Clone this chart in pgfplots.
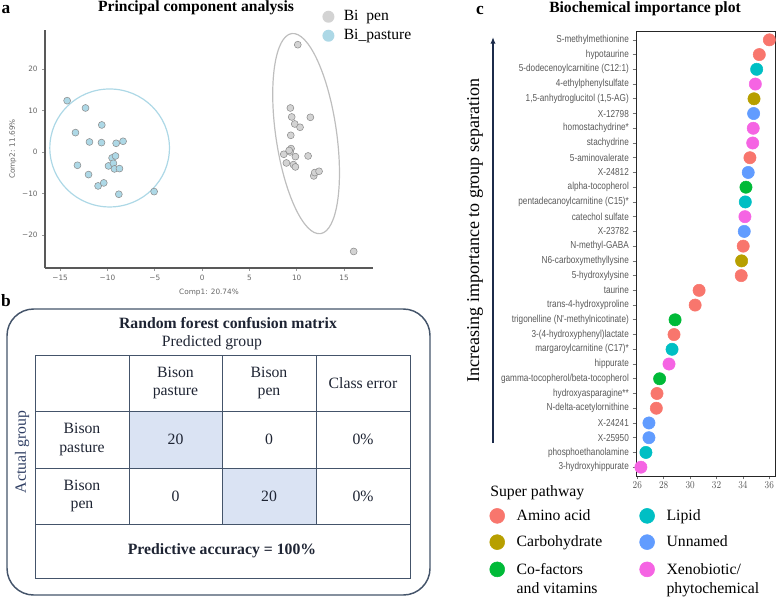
\documentclass[border=0pt]{standalone}
\usepackage{fontspec}
\setmainfont{Liberation Serif}
\newfontfamily\dejavu{DejaVu Sans}
\newfontfamily\libsans{Liberation Sans}
\usepackage{pgfplots}
\pgfplotsset{compat=1.18}
\usetikzlibrary{arrows.meta}
\definecolor{cAmino}{HTML}{F8766D}
\definecolor{cCarb}{HTML}{B79F00}
\definecolor{cCof}{HTML}{00BA38}
\definecolor{cLipid}{HTML}{00BFC4}
\definecolor{cUnn}{HTML}{619CFF}
\definecolor{cXeno}{HTML}{F564E3}
\definecolor{pasture}{HTML}{ADD8E6}
\definecolor{pen}{HTML}{D3D3D3}
\definecolor{navy}{HTML}{1C2B4A}
\definecolor{frame}{HTML}{44546A}
\definecolor{cellblue}{HTML}{DAE3F3}
\definecolor{tabtext}{HTML}{1E2433}
\definecolor{actual}{HTML}{2F3E63}
\renewcommand{\arraystretch}{1}
\begin{document}
\begin{tikzpicture}
\useasboundingbox (0,0) rectangle (582.75pt,-447.75pt);

% ---------------- Panel a: PCA ----------------
\begin{axis}[
  at={(33.75pt,-201pt)}, anchor=south west, scale only axis,
  width=246pt, height=178.5pt,
  xmin=-16.6, xmax=18.06, ymin=-28, ymax=29.5,
  axis lines*=left, axis line style={-, draw=black!65, line width=0.8pt},
  xtick={-15,-10,-5,0,5,10,15}, xticklabels={−15,−10,−5,0,5,10,15},
  ytick={-20,-10,0,10,20}, yticklabels={−20,−10,0,10,20},
  tick align=outside, major tick length=2pt, tick style={black!40, line width=0.5pt},
  ticklabel style={font=\dejavu\fontsize{5.5}{6}\selectfont, text=black!60},
  xlabel={Comp1: 20.74\%}, ylabel={Comp2: 11.69\%},
  label style={font=\dejavu\fontsize{5.5}{6}\selectfont, text=black!60},
  xlabel style={at={(axis description cs:0.5,-0.105)}, anchor=center},
  ylabel style={at={(axis description cs:-0.0976,0.5)}, anchor=center},
  legend style={at={(axis description cs:0.845,1.094)}, anchor=north west, draw=none, fill=none,
    font=\fontsize{11.7}{14}\selectfont, row sep=1pt, column sep=5pt, inner sep=0pt},
  legend cell align=left,
  legend image code/.code={\path[#1, draw=none] (4.5pt,0pt) circle (4.5pt);},
  clip=false,
]
\addplot[only marks, mark=*, mark size=2.6pt, mark options={fill=pasture, draw=black!45, line width=0.4pt}, forget plot] coordinates {
(-14.26,12.43) (-12.32,10.66) (-13.38,4.71) (-10.60,6.56) (-11.90,2.45)
(-10.63,2.29) (-9.08,2.13) (-8.35,2.62) (-9.51,-1.41) (-9.15,-0.93)
(-13.17,-3.18) (-9.89,-3.34) (-9.37,-2.70) (-9.26,-4.06) (-8.73,-3.98)
(-12.00,-5.43) (-10.99,-8.17) (-10.39,-7.44) (-8.80,-10.18) (-5.07,-9.54)
};
\addplot[only marks, mark=*, mark size=2.6pt, mark options={fill=pen, draw=black!45, line width=0.4pt}, forget plot] coordinates {
(10.11,25.95) (9.33,10.66) (9.47,8.49) (9.79,6.80) (10.35,6.00)
(11.44,8.41) (9.37,4.06) (9.40,0.85) (9.30,0.04) (8.63,-0.52)
(9.86,-1.09) (11.20,-0.93) (8.91,-2.62) (9.65,-3.02) (9.86,-3.58)
(11.80,-5.75) (11.90,-4.95) (12.36,-4.63) (9.20,0.40) (16.02,-24.00)
};
\draw[pasture, line width=0.9pt] (axis cs:-9.77,1.0) ellipse [x radius=6.32, y radius=14.25];
\draw[pen!90!black, line width=0.9pt, rotate around={8.2:(axis cs:10.99,4.47)}] (axis cs:10.99,4.47) ellipse [x radius=22.8pt, y radius=75.8pt];
\addlegendimage{fill=pen}
\addlegendentry{Bi\phantom{\_}pen}
\addlegendimage{fill=pasture}
\addlegendentry{Bi\_pasture}
\end{axis}

% ---------------- Panel c: importance ----------------
\begin{axis}[
  at={(477pt,-357pt)}, anchor=south west, scale only axis,
  width=104.25pt, height=333.75pt,
  xmin=25.9, xmax=36.43, ymin=0.4, ymax=30.6,
  xtick={26,28,30,32,34,36}, ytick={1,...,30},
  yticklabels={3-hydroxyhippurate, phosphoethanolamine, X-25950, X-24241,
    N-delta-acetylornithine, hydroxyasparagine**, gamma-tocopherol/beta-tocopherol,
    hippurate, margaroylcarnitine (C17)*, 3-(4-hydroxyphenyl)lactate,
    trigonelline (N'-methylnicotinate), trans-4-hydroxyproline, taurine,
    5-hydroxylysine, N6-carboxymethyllysine, N-methyl-GABA, X-23782,
    catechol sulfate, pentadecanoylcarnitine (C15)*, alpha-tocopherol,
    X-24812, 5-aminovalerate, stachydrine, homostachydrine*, X-12798,
    {1,5-anhydroglucitol (1,5-AG)}, 4-ethylphenylsulfate,
    5-dodecenoylcarnitine (C12:1), hypotaurine, S-methylmethionine},
  tick pos=left, tick align=outside, major tick length=2.5pt,
  tick style={black!55, line width=0.5pt},
  axis line style={black!85, line width=0.6pt},
  ticklabel style={font=\libsans\fontsize{7.6}{8}\selectfont, text=black!65, xscale=0.81},
  xticklabel style={yshift=1.5pt},
  legend columns=2, legend cell align=left,
  legend style={at={(axis description cs:-1.054,-0.0685)}, anchor=north west,
    draw=none, fill=none, inner sep=0pt,
    font=\fontsize{11.8}{13.8}\selectfont,
    column sep=7pt, /tikz/every even column/.append style={column sep=26pt},
    row sep=6pt},
  legend image code/.code={\draw[#1, mark size=5.6pt] plot coordinates {(0pt,0pt)};},
  clip=false,
]
\addplot[only marks, mark=*, mark size=4.6pt, color=cAmino] coordinates {
(27.44,5) (27.49,6) (28.78,10) (30.38,12) (30.68,13) (33.87,14) (34.02,16)
(34.53,22) (35.24,29) (36.00,30)};
\addlegendentry{Amino acid}
\addplot[only marks, mark=*, mark size=4.6pt, color=cLipid] coordinates {
(26.65,2) (28.63,9) (34.18,19) (35.04,28)};
\addlegendentry{Lipid}
\addplot[only marks, mark=*, mark size=4.6pt, color=cCarb] coordinates {
(33.90,15) (34.84,26)};
\addlegendentry{Carbohydrate}
\addplot[only marks, mark=*, mark size=4.6pt, color=cUnn] coordinates {
(26.88,3) (26.88,4) (34.10,17) (34.40,21) (34.81,25)};
\addlegendentry{Unnamed}
\addplot[only marks, mark=*, mark size=4.6pt, color=cCof] coordinates {
(27.69,7) (28.86,11) (34.23,20)};
\addlegendentry{\begin{tabular}[t]{@{}l@{}}Co-factors\\and vitamins\end{tabular}}
\addplot[only marks, mark=*, mark size=4.6pt, color=cXeno] coordinates {
(26.27,1) (28.40,8) (34.15,18) (34.74,23) (34.78,24) (34.94,27)};
\addlegendentry{\begin{tabular}[t]{@{}l@{}}Xenobiotic/\\phytochemical\end{tabular}}
\end{axis}

% ---------------- annotations, panel b ----------------
\begin{scope}[x=0.75pt,y=-0.75pt]
\node[font=\fontsize{11.7}{14}\selectfont\bfseries] at (196,8) {Principal component analysis};
\node[font=\fontsize{11.7}{14}\selectfont\bfseries] at (645,9) {Biochemical importance plot};
\node[font=\fontsize{13}{15}\selectfont\bfseries, inner sep=0pt] at (6,10) {a};
\node[font=\fontsize{13}{15}\selectfont\bfseries, inner sep=0pt] at (6,301) {b};
\node[font=\fontsize{13}{15}\selectfont\bfseries, inner sep=0pt] at (480,10) {c};
% panel c extras
\node[rotate=90, font=\fontsize{13.5}{16}\selectfont] at (475,230.5) {Increasing importance to group separation};
\draw[navy, line width=1.1pt, -{Latex[length=5pt,width=4pt]}] (493,443) -- (493,37);
\node[anchor=west, inner sep=0pt, font=\fontsize{11.8}{14}\selectfont] at (490,493) {Super pathway};
% panel b
\draw[frame, line width=1.1pt, rounded corners=20pt] (7,309) rectangle (430,595);
\fill[cellblue] (129,411) rectangle (222,468);
\fill[cellblue] (222,468) rectangle (316,524);
\draw[frame, line width=0.7pt] (35,355) rectangle (410,578);
\draw[frame, line width=0.7pt] (35,411) -- (410,411) (35,468) -- (410,468) (35,524) -- (410,524);
\draw[frame, line width=0.7pt] (129,355) -- (129,524) (222,355) -- (222,524) (316,355) -- (316,524);
\begin{scope}[every node/.style={font=\fontsize{11.8}{13.8}\selectfont, text=tabtext, align=center}]
\node[font=\fontsize{11.8}{14}\selectfont\bfseries] at (228,323) {Random forest confusion matrix};
\node at (212,343) {Predicted group};
\node at (175.5,383) {Bison\\pasture};
\node at (269,383) {Bison\\pen};
\node at (363,383) {Class error};
\node at (82,439.5) {Bison\\pasture};
\node at (175.5,439.5) {20};
\node at (269,439.5) {0};
\node at (363,439.5) {0\%};
\node at (82,496) {Bison\\pen};
\node at (175.5,496) {0};
\node at (269,496) {20};
\node at (363,496) {0\%};
\node[font=\fontsize{11.8}{14}\selectfont\bfseries] at (222,551) {Predictive accuracy = 100\%};
\node[rotate=90, text=actual] at (22,452) {Actual group};
\end{scope}
\end{scope}
\end{tikzpicture}
\end{document}
